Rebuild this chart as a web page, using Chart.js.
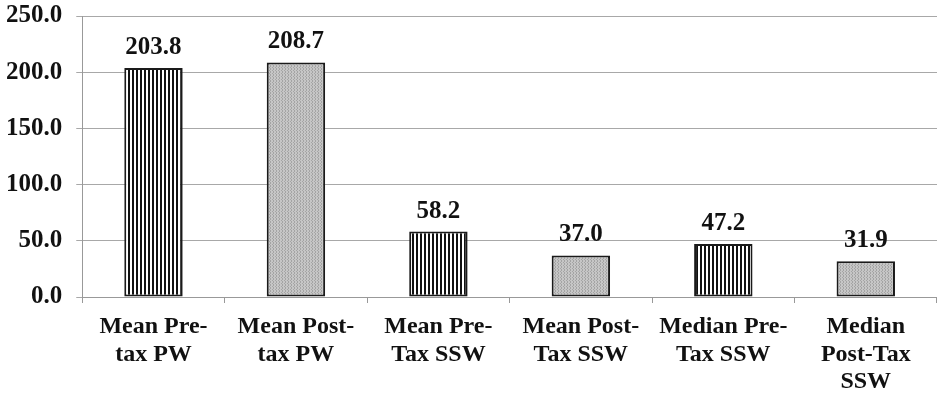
<!DOCTYPE html>
<html>
<head>
<meta charset="utf-8">
<script src="https://cdn.jsdelivr.net/npm/chart.js@4.4.1/dist/chart.umd.min.js"></script>
<style>
  html, body { margin: 0; padding: 0; background: #fff; }
  #wrap { width: 937px; height: 397px; position: relative; }
</style>
</head>
<body>
<div id="wrap"><canvas id="chart"></canvas></div>
<script>
// categories, values and axis ticks
const categories = [
  ['Mean Pre-', 'tax PW'],
  ['Mean Post-', 'tax PW'],
  ['Mean Pre-', 'Tax SSW'],
  ['Mean Post-', 'Tax SSW'],
  ['Median Pre-', 'Tax SSW'],
  ['Median', 'Post-Tax', 'SSW']
];
const values = [203.8, 208.7, 58.2, 37.0, 47.2, 31.9];
const isPreTax = [true, false, true, false, true, false];
const yTicks = [0, 50, 100, 150, 200, 250];

// vertical black/white stripes for pre-tax bars
function stripePattern() {
  const c = document.createElement('canvas');
  c.width = 4; c.height = 4;
  const g = c.getContext('2d');
  g.fillStyle = '#fff'; g.fillRect(0, 0, 4, 4);
  g.fillStyle = '#111'; g.fillRect(0, 0, 2, 4);
  return g.createPattern(c, 'repeat');
}

// fine grey stipple for post-tax bars
function dotPattern() {
  const c = document.createElement('canvas');
  c.width = 3; c.height = 3;
  const g = c.getContext('2d');
  g.fillStyle = '#c6c6c6'; g.fillRect(0, 0, 3, 3);
  g.fillStyle = '#a4a4a4';
  g.fillRect(0, 0, 1, 1);
  g.fillRect(0, 2, 1, 1);
  g.fillRect(2, 1, 1, 1);
  return g.createPattern(c, 'repeat');
}

const stripes = stripePattern();
const dots = dotPattern();

const valueLabels = {
  id: 'valueLabels',
  afterDatasetsDraw(chart) {
    const { ctx } = chart;
    const meta = chart.getDatasetMeta(0);
    ctx.save();
    ctx.font = 'bold 25px "Liberation Serif", "Times New Roman", serif';
    ctx.fillStyle = '#111';
    ctx.textAlign = 'center';
    ctx.textBaseline = 'bottom';
    meta.data.forEach((bar, i) => {
      ctx.fillText(values[i].toFixed(1), bar.x, bar.y - 8);
    });
    ctx.restore();
  }
};

Chart.defaults.font.family = '"Liberation Serif", "Times New Roman", serif';
Chart.defaults.color = '#111';

new Chart(document.getElementById('chart'), {
  type: 'bar',
  data: {
    labels: categories,
    datasets: [{
      data: values,
      backgroundColor: isPreTax.map(p => p ? stripes : dots),
      borderColor: '#1a1a1a',
      borderWidth: 2,
      borderSkipped: false,
      categoryPercentage: 0.41,
      barPercentage: 1.0
    }]
  },
  options: {
    responsive: true,
    maintainAspectRatio: false,
    animation: false,
    layout: { padding: { top: 16, right: 0, bottom: 0, left: -8 } },
    plugins: { legend: { display: false }, tooltip: { enabled: false } },
    scales: {
      x: {
        // fixed band for the category labels under the plot
        afterFit(scale) { scale.height = 100; scale.paddingLeft = 0; scale.paddingRight = 0; },
        grid: { display: true, drawOnChartArea: false, drawTicks: true, tickLength: 6, color: '#999', offset: true },
        border: { color: '#999', width: 1 },
        ticks: {
          font: { size: 24, weight: 'bold', lineHeight: 1.15 },
          color: '#111',
          padding: 10,
          maxRotation: 0,
          autoSkip: false
        }
      },
      y: {
        min: 0,
        max: 250,
        afterBuildTicks(axis) { axis.ticks = yTicks.map(v => ({ value: v })); },
        afterFit(scale) { scale.paddingTop = 0; scale.paddingBottom = 0; },
        grid: { color: '#a8a8a8', tickLength: 6, lineWidth: 1 },
        border: { color: '#999', width: 1 },
        ticks: {
          font: { size: 25, weight: 'bold' },
          color: '#111',
          padding: 14,
          callback: v => Number(v).toFixed(1)
        }
      }
    }
  },
  plugins: [valueLabels]
});
</script>
</body>
</html>
